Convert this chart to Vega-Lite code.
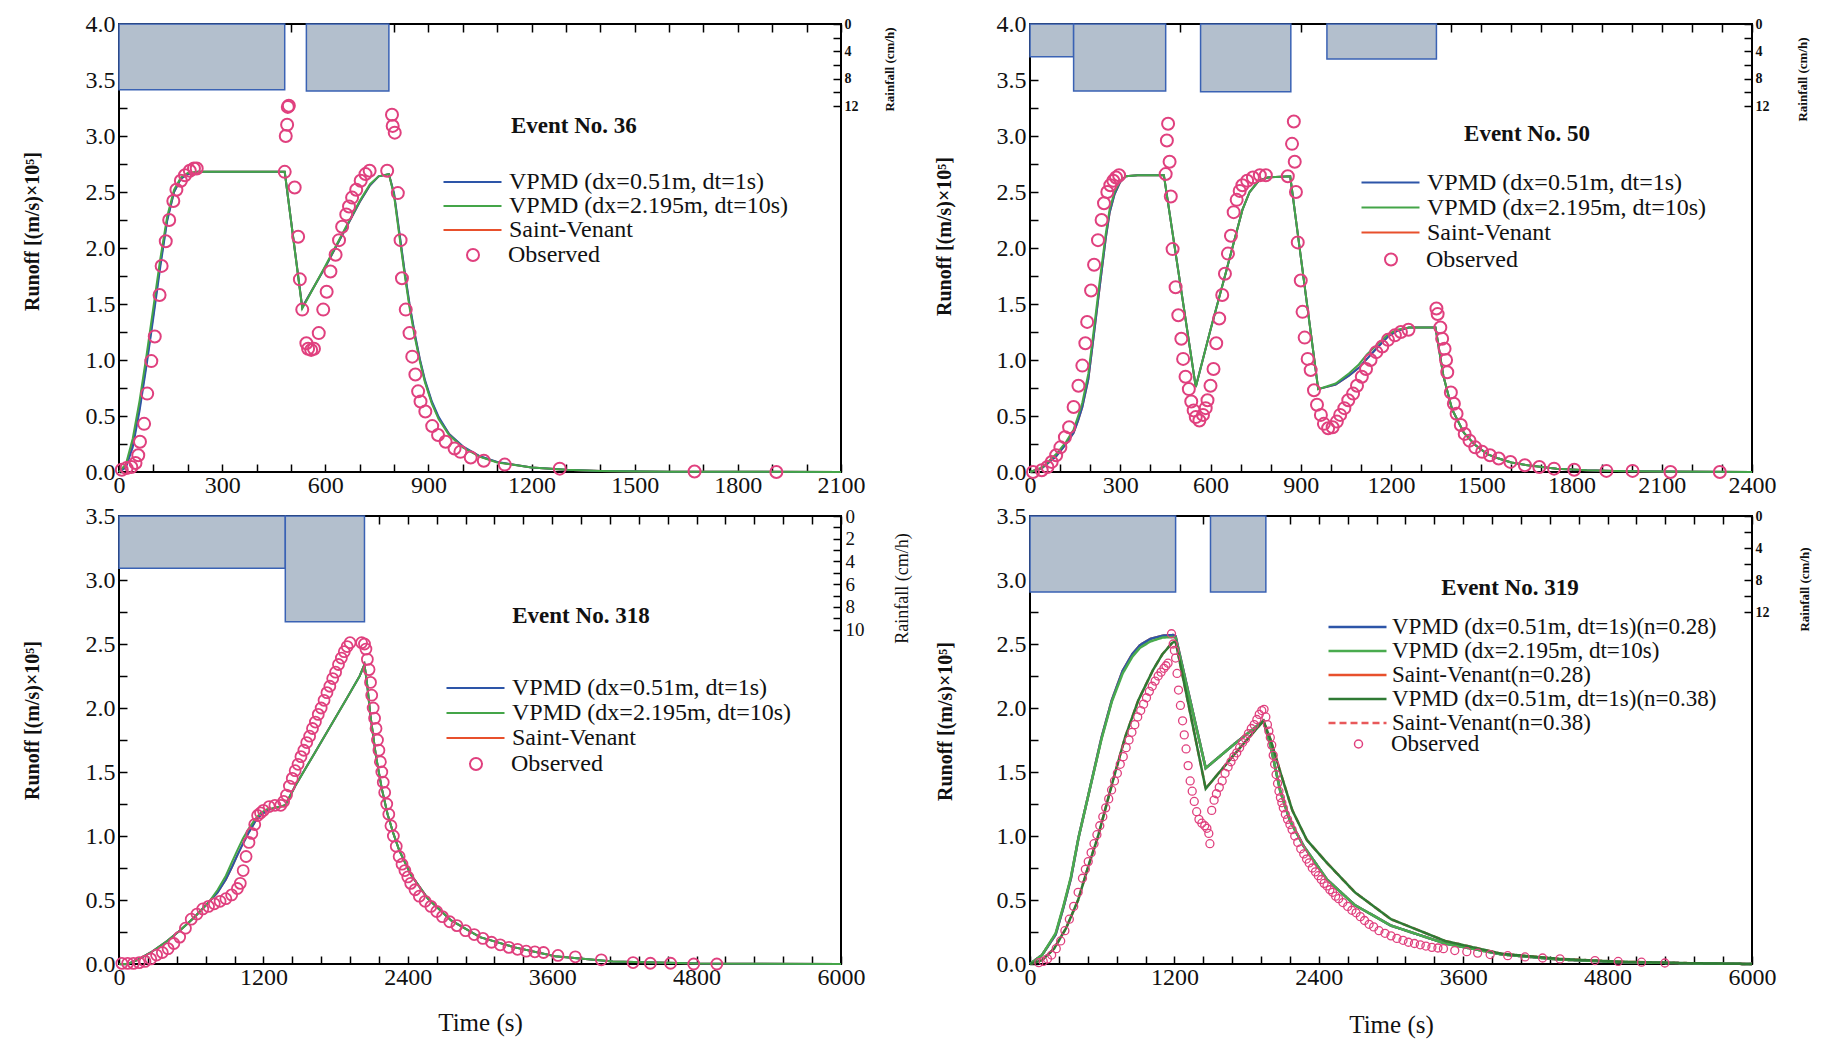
{
"$schema": "https://vega.github.io/schema/vega-lite/v6.json",
"background": "white",
"padding": {"left": 21, "top": 11, "right": 2, "bottom": 2},
"config": {
  "view": {"stroke": "#000", "strokeWidth": 2},
  "axis": {"grid": false, "domain": false, "ticks": true, "tickColor": "#000", "tickWidth": 1.5, "tickSize": -8, "labelFont": "Liberation Serif", "labelFontSize": 24, "labelColor": "#111", "titleFont": "Liberation Serif", "titleColor": "#111", "labelPadding": 10, "labelOverlap": false, "labelFlush": false, "labelBound": false},
  "legend": {"padding": 0, "rowPadding": 0, "labelFont": "Liberation Serif", "labelColor": "#111", "labelLimit": 1000, "symbolOpacity": 1},
  "font": "Liberation Serif"
},
"datasets": {
"r1": [{"t0":0,"t1":482,"rain":9.6},{"t0":545,"t1":785,"rain":9.8}],
"r2": [{"t0":0,"t1":145,"rain":4.8},{"t0":145,"t1":451,"rain":9.8},{"t0":567,"t1":867,"rain":9.9},{"t0":987,"t1":1351,"rain":5.1}],
"r3": [{"t0":0,"t1":1382,"rain":4.6},{"t0":1382,"t1":2040,"rain":9.3}],
"r4": [{"t0":0,"t1":1210,"rain":9.5},{"t0":1500,"t1":1960,"rain":9.5}],
"m1": [
{"s":"R","t":0,"q":0},{"s":"R","t":20,"q":0.05},{"s":"R","t":40,"q":0.25},{"s":"R","t":60,"q":0.58},{"s":"R","t":80,"q":0.98},{"s":"R","t":100,"q":1.41},{"s":"R","t":120,"q":1.86},{"s":"R","t":140,"q":2.25},{"s":"R","t":160,"q":2.5},{"s":"R","t":180,"q":2.62},{"s":"R","t":200,"q":2.66},{"s":"R","t":230,"q":2.68},{"s":"R","t":482,"q":2.68},{"s":"R","t":533,"q":1.47},{"s":"R","t":600,"q":1.83},{"s":"R","t":650,"q":2.12},{"s":"R","t":700,"q":2.41},{"s":"R","t":730,"q":2.56},{"s":"R","t":755,"q":2.64},{"s":"R","t":785,"q":2.66},{"s":"R","t":800,"q":2.48},{"s":"R","t":815,"q":2.14},{"s":"R","t":830,"q":1.8},{"s":"R","t":845,"q":1.49},{"s":"R","t":860,"q":1.23},{"s":"R","t":875,"q":1.0},{"s":"R","t":890,"q":0.81},{"s":"R","t":910,"q":0.62},{"s":"R","t":930,"q":0.48},{"s":"R","t":960,"q":0.34},{"s":"R","t":1000,"q":0.225},{"s":"R","t":1050,"q":0.138},{"s":"R","t":1100,"q":0.088},{"s":"R","t":1200,"q":0.04},{"s":"R","t":1300,"q":0.02},{"s":"R","t":1400,"q":0.01},{"s":"R","t":1600,"q":0.003},{"s":"R","t":2100,"q":0},
{"s":"B","t":0,"q":0},{"s":"B","t":20,"q":0.04},{"s":"B","t":40,"q":0.22},{"s":"B","t":60,"q":0.55},{"s":"B","t":80,"q":0.95},{"s":"B","t":100,"q":1.38},{"s":"B","t":120,"q":1.83},{"s":"B","t":140,"q":2.24},{"s":"B","t":160,"q":2.5},{"s":"B","t":180,"q":2.62},{"s":"B","t":200,"q":2.66},{"s":"B","t":230,"q":2.68},{"s":"B","t":482,"q":2.68},{"s":"B","t":533,"q":1.47},{"s":"B","t":600,"q":1.83},{"s":"B","t":650,"q":2.12},{"s":"B","t":700,"q":2.41},{"s":"B","t":730,"q":2.56},{"s":"B","t":755,"q":2.64},{"s":"B","t":785,"q":2.66},{"s":"B","t":800,"q":2.49},{"s":"B","t":815,"q":2.15},{"s":"B","t":830,"q":1.81},{"s":"B","t":845,"q":1.5},{"s":"B","t":860,"q":1.24},{"s":"B","t":875,"q":1.01},{"s":"B","t":890,"q":0.82},{"s":"B","t":910,"q":0.63},{"s":"B","t":930,"q":0.49},{"s":"B","t":960,"q":0.34},{"s":"B","t":1000,"q":0.23},{"s":"B","t":1050,"q":0.14},{"s":"B","t":1100,"q":0.09},{"s":"B","t":1200,"q":0.04},{"s":"B","t":1300,"q":0.02},{"s":"B","t":1400,"q":0.01},{"s":"B","t":1600,"q":0.003},{"s":"B","t":2100,"q":0},
{"s":"G","t":0,"q":0},{"s":"G","t":20,"q":0.07},{"s":"G","t":40,"q":0.3},{"s":"G","t":60,"q":0.64},{"s":"G","t":80,"q":1.04},{"s":"G","t":100,"q":1.47},{"s":"G","t":120,"q":1.9},{"s":"G","t":140,"q":2.28},{"s":"G","t":160,"q":2.52},{"s":"G","t":180,"q":2.63},{"s":"G","t":200,"q":2.67},{"s":"G","t":230,"q":2.68},{"s":"G","t":482,"q":2.68},{"s":"G","t":533,"q":1.46},{"s":"G","t":600,"q":1.84},{"s":"G","t":650,"q":2.13},{"s":"G","t":700,"q":2.42},{"s":"G","t":730,"q":2.57},{"s":"G","t":755,"q":2.64},{"s":"G","t":785,"q":2.66},{"s":"G","t":800,"q":2.47},{"s":"G","t":815,"q":2.12},{"s":"G","t":830,"q":1.78},{"s":"G","t":845,"q":1.47},{"s":"G","t":860,"q":1.21},{"s":"G","t":875,"q":0.99},{"s":"G","t":890,"q":0.8},{"s":"G","t":910,"q":0.61},{"s":"G","t":930,"q":0.47},{"s":"G","t":960,"q":0.33},{"s":"G","t":1000,"q":0.22},{"s":"G","t":1050,"q":0.135},{"s":"G","t":1100,"q":0.085},{"s":"G","t":1200,"q":0.04},{"s":"G","t":1300,"q":0.02},{"s":"G","t":1400,"q":0.01},{"s":"G","t":1600,"q":0.003},{"s":"G","t":2100,"q":0}
],
"o1": [
{"t":8,"q":0.02},{"t":22,"q":0.035},{"t":36,"q":0.045},{"t":48,"q":0.08},{"t":56,"q":0.15},{"t":61,"q":0.27},{"t":73,"q":0.43},{"t":82,"q":0.7},{"t":94,"q":0.99},{"t":104,"q":1.21},{"t":118,"q":1.58},{"t":124,"q":1.84},{"t":136,"q":2.06},{"t":146,"q":2.25},{"t":158,"q":2.42},{"t":167,"q":2.52},{"t":180,"q":2.6},{"t":192,"q":2.65},{"t":206,"q":2.69},{"t":218,"q":2.71},{"t":226,"q":2.71},{"t":482,"q":2.68},{"t":485,"q":3.0},{"t":489,"q":3.1},{"t":491,"q":3.26},{"t":494,"q":3.27},{"t":511,"q":2.54},{"t":521,"q":2.1},{"t":526,"q":1.72},{"t":533,"q":1.45},{"t":545,"q":1.15},{"t":550,"q":1.1},{"t":559,"q":1.09},{"t":567,"q":1.1},{"t":581,"q":1.24},{"t":594,"q":1.45},{"t":604,"q":1.61},{"t":615,"q":1.79},{"t":630,"q":1.94},{"t":640,"q":2.07},{"t":649,"q":2.19},{"t":661,"q":2.3},{"t":669,"q":2.37},{"t":678,"q":2.45},{"t":690,"q":2.52},{"t":703,"q":2.6},{"t":717,"q":2.66},{"t":729,"q":2.69},{"t":780,"q":2.69},{"t":794,"q":3.19},{"t":796,"q":3.09},{"t":802,"q":3.03},{"t":811,"q":2.49},{"t":819,"q":2.07},{"t":823,"q":1.73},{"t":834,"q":1.45},{"t":845,"q":1.24},{"t":853,"q":1.03},{"t":862,"q":0.87},{"t":870,"q":0.72},{"t":877,"q":0.63},{"t":891,"q":0.54},{"t":911,"q":0.41},{"t":928,"q":0.33},{"t":950,"q":0.27},{"t":976,"q":0.21},{"t":993,"q":0.18},{"t":1023,"q":0.13},{"t":1061,"q":0.1},{"t":1122,"q":0.066},{"t":1282,"q":0.03},{"t":1674,"q":0.005},{"t":1912,"q":0.0}
],
"m2": [
{"s":"R","t":0,"q":0},{"s":"R","t":40,"q":0.035},{"s":"R","t":87,"q":0.14},{"s":"R","t":120,"q":0.25},{"s":"R","t":145,"q":0.35},{"s":"R","t":160,"q":0.46},{"s":"R","t":174,"q":0.58},{"s":"R","t":194,"q":0.83},{"s":"R","t":213,"q":1.24},{"s":"R","t":232,"q":1.66},{"s":"R","t":252,"q":2.09},{"s":"R","t":265,"q":2.32},{"s":"R","t":281,"q":2.48},{"s":"R","t":300,"q":2.59},{"s":"R","t":319,"q":2.64},{"s":"R","t":358,"q":2.65},{"s":"R","t":445,"q":2.65},{"s":"R","t":551,"q":0.76},{"s":"R","t":600,"q":1.27},{"s":"R","t":650,"q":1.77},{"s":"R","t":706,"q":2.34},{"s":"R","t":730,"q":2.5},{"s":"R","t":760,"q":2.6},{"s":"R","t":790,"q":2.63},{"s":"R","t":865,"q":2.64},{"s":"R","t":910,"q":1.72},{"s":"R","t":958,"q":0.74},{"s":"R","t":1016,"q":0.78},{"s":"R","t":1060,"q":0.86},{"s":"R","t":1093,"q":0.93},{"s":"R","t":1120,"q":1.01},{"s":"R","t":1151,"q":1.1},{"s":"R","t":1190,"q":1.21},{"s":"R","t":1220,"q":1.26},{"s":"R","t":1260,"q":1.29},{"s":"R","t":1348,"q":1.29},{"s":"R","t":1374,"q":0.86},{"s":"R","t":1403,"q":0.56},{"s":"R","t":1442,"q":0.35},{"s":"R","t":1480,"q":0.24},{"s":"R","t":1520,"q":0.16},{"s":"R","t":1558,"q":0.12},{"s":"R","t":1600,"q":0.085},{"s":"R","t":1654,"q":0.06},{"s":"R","t":1751,"q":0.03},{"s":"R","t":1850,"q":0.015},{"s":"R","t":1945,"q":0.01},{"s":"R","t":2100,"q":0.004},{"s":"R","t":2400,"q":0},
{"s":"B","t":0,"q":0},{"s":"B","t":40,"q":0.035},{"s":"B","t":87,"q":0.14},{"s":"B","t":120,"q":0.25},{"s":"B","t":145,"q":0.35},{"s":"B","t":160,"q":0.46},{"s":"B","t":174,"q":0.58},{"s":"B","t":194,"q":0.83},{"s":"B","t":213,"q":1.24},{"s":"B","t":232,"q":1.66},{"s":"B","t":252,"q":2.09},{"s":"B","t":265,"q":2.32},{"s":"B","t":281,"q":2.48},{"s":"B","t":300,"q":2.59},{"s":"B","t":319,"q":2.64},{"s":"B","t":358,"q":2.65},{"s":"B","t":445,"q":2.65},{"s":"B","t":551,"q":0.76},{"s":"B","t":600,"q":1.27},{"s":"B","t":650,"q":1.77},{"s":"B","t":706,"q":2.34},{"s":"B","t":730,"q":2.5},{"s":"B","t":760,"q":2.6},{"s":"B","t":790,"q":2.63},{"s":"B","t":865,"q":2.64},{"s":"B","t":910,"q":1.72},{"s":"B","t":958,"q":0.74},{"s":"B","t":1016,"q":0.78},{"s":"B","t":1060,"q":0.86},{"s":"B","t":1093,"q":0.93},{"s":"B","t":1120,"q":1.01},{"s":"B","t":1151,"q":1.1},{"s":"B","t":1190,"q":1.21},{"s":"B","t":1220,"q":1.26},{"s":"B","t":1260,"q":1.29},{"s":"B","t":1348,"q":1.29},{"s":"B","t":1374,"q":0.86},{"s":"B","t":1403,"q":0.56},{"s":"B","t":1442,"q":0.35},{"s":"B","t":1480,"q":0.24},{"s":"B","t":1520,"q":0.16},{"s":"B","t":1558,"q":0.12},{"s":"B","t":1600,"q":0.085},{"s":"B","t":1654,"q":0.06},{"s":"B","t":1751,"q":0.03},{"s":"B","t":1850,"q":0.015},{"s":"B","t":1945,"q":0.01},{"s":"B","t":2100,"q":0.004},{"s":"B","t":2400,"q":0},
{"s":"G","t":0,"q":0},{"s":"G","t":40,"q":0.04},{"s":"G","t":87,"q":0.16},{"s":"G","t":120,"q":0.27},{"s":"G","t":145,"q":0.38},{"s":"G","t":160,"q":0.5},{"s":"G","t":174,"q":0.62},{"s":"G","t":194,"q":0.88},{"s":"G","t":213,"q":1.29},{"s":"G","t":232,"q":1.71},{"s":"G","t":252,"q":2.13},{"s":"G","t":265,"q":2.35},{"s":"G","t":281,"q":2.5},{"s":"G","t":300,"q":2.6},{"s":"G","t":319,"q":2.64},{"s":"G","t":358,"q":2.65},{"s":"G","t":445,"q":2.65},{"s":"G","t":551,"q":0.76},{"s":"G","t":600,"q":1.27},{"s":"G","t":650,"q":1.77},{"s":"G","t":706,"q":2.34},{"s":"G","t":730,"q":2.5},{"s":"G","t":760,"q":2.6},{"s":"G","t":790,"q":2.63},{"s":"G","t":865,"q":2.64},{"s":"G","t":910,"q":1.72},{"s":"G","t":958,"q":0.74},{"s":"G","t":1016,"q":0.79},{"s":"G","t":1060,"q":0.88},{"s":"G","t":1093,"q":0.96},{"s":"G","t":1120,"q":1.05},{"s":"G","t":1151,"q":1.13},{"s":"G","t":1190,"q":1.23},{"s":"G","t":1220,"q":1.27},{"s":"G","t":1260,"q":1.29},{"s":"G","t":1348,"q":1.29},{"s":"G","t":1374,"q":0.86},{"s":"G","t":1403,"q":0.56},{"s":"G","t":1442,"q":0.35},{"s":"G","t":1480,"q":0.24},{"s":"G","t":1520,"q":0.16},{"s":"G","t":1558,"q":0.12},{"s":"G","t":1600,"q":0.085},{"s":"G","t":1654,"q":0.06},{"s":"G","t":1751,"q":0.03},{"s":"G","t":1850,"q":0.015},{"s":"G","t":1945,"q":0.01},{"s":"G","t":2100,"q":0.004},{"s":"G","t":2400,"q":0}
],
"o2": [
{"t":10,"q":0.0},{"t":39,"q":0.015},{"t":58,"q":0.045},{"t":72,"q":0.09},{"t":87,"q":0.15},{"t":101,"q":0.22},{"t":116,"q":0.31},{"t":130,"q":0.4},{"t":145,"q":0.58},{"t":161,"q":0.77},{"t":174,"q":0.95},{"t":184,"q":1.15},{"t":190,"q":1.34},{"t":203,"q":1.62},{"t":213,"q":1.85},{"t":226,"q":2.07},{"t":238,"q":2.25},{"t":246,"q":2.4},{"t":257,"q":2.5},{"t":267,"q":2.56},{"t":277,"q":2.6},{"t":286,"q":2.63},{"t":296,"q":2.65},{"t":451,"q":2.66},{"t":455,"q":2.96},{"t":459,"q":3.11},{"t":464,"q":2.77},{"t":468,"q":2.46},{"t":474,"q":1.99},{"t":484,"q":1.65},{"t":493,"q":1.4},{"t":503,"q":1.19},{"t":509,"q":1.01},{"t":517,"q":0.85},{"t":528,"q":0.74},{"t":536,"q":0.63},{"t":544,"q":0.55},{"t":551,"q":0.49},{"t":563,"q":0.46},{"t":575,"q":0.51},{"t":584,"q":0.57},{"t":590,"q":0.64},{"t":600,"q":0.77},{"t":610,"q":0.92},{"t":619,"q":1.15},{"t":629,"q":1.37},{"t":639,"q":1.58},{"t":648,"q":1.77},{"t":658,"q":1.95},{"t":668,"q":2.11},{"t":677,"q":2.32},{"t":687,"q":2.43},{"t":697,"q":2.51},{"t":706,"q":2.56},{"t":722,"q":2.6},{"t":741,"q":2.63},{"t":764,"q":2.65},{"t":784,"q":2.65},{"t":857,"q":2.64},{"t":871,"q":2.93},{"t":877,"q":3.13},{"t":880,"q":2.77},{"t":884,"q":2.5},{"t":890,"q":2.05},{"t":900,"q":1.71},{"t":906,"q":1.43},{"t":913,"q":1.2},{"t":923,"q":1.01},{"t":933,"q":0.91},{"t":944,"q":0.73},{"t":954,"q":0.6},{"t":967,"q":0.51},{"t":977,"q":0.43},{"t":991,"q":0.39},{"t":1006,"q":0.4},{"t":1020,"q":0.45},{"t":1031,"q":0.51},{"t":1045,"q":0.57},{"t":1058,"q":0.64},{"t":1074,"q":0.7},{"t":1087,"q":0.77},{"t":1103,"q":0.85},{"t":1117,"q":0.92},{"t":1132,"q":1.0},{"t":1151,"q":1.07},{"t":1171,"q":1.12},{"t":1190,"q":1.18},{"t":1213,"q":1.22},{"t":1233,"q":1.25},{"t":1258,"q":1.27},{"t":1351,"q":1.46},{"t":1355,"q":1.41},{"t":1364,"q":1.29},{"t":1370,"q":1.19},{"t":1378,"q":1.1},{"t":1383,"q":1.0},{"t":1387,"q":0.89},{"t":1399,"q":0.71},{"t":1409,"q":0.61},{"t":1418,"q":0.52},{"t":1432,"q":0.42},{"t":1445,"q":0.34},{"t":1461,"q":0.28},{"t":1480,"q":0.22},{"t":1503,"q":0.18},{"t":1529,"q":0.15},{"t":1558,"q":0.12},{"t":1597,"q":0.09},{"t":1645,"q":0.06},{"t":1693,"q":0.045},{"t":1742,"q":0.03},{"t":1809,"q":0.02},{"t":1916,"q":0.01},{"t":2003,"q":0.01},{"t":2129,"q":0.0},{"t":2293,"q":0.0}
],
"m3": [
{"s":"R","t":0,"q":0},{"s":"R","t":72,"q":0},{"s":"R","t":150,"q":0.03},{"s":"R","t":264,"q":0.09},{"s":"R","t":400,"q":0.18},{"s":"R","t":504,"q":0.26},{"s":"R","t":620,"q":0.36},{"s":"R","t":744,"q":0.48},{"s":"R","t":820,"q":0.56},{"s":"R","t":888,"q":0.66},{"s":"R","t":940,"q":0.76},{"s":"R","t":984,"q":0.85},{"s":"R","t":1030,"q":0.94},{"s":"R","t":1080,"q":1.03},{"s":"R","t":1130,"q":1.11},{"s":"R","t":1176,"q":1.16},{"s":"R","t":1230,"q":1.2},{"s":"R","t":1300,"q":1.22},{"s":"R","t":1382,"q":1.24},{"s":"R","t":1464,"q":1.39},{"s":"R","t":1608,"q":1.62},{"s":"R","t":1752,"q":1.85},{"s":"R","t":1896,"q":2.08},{"s":"R","t":2000,"q":2.25},{"s":"R","t":2040,"q":2.34},{"s":"R","t":2064,"q":2.17},{"s":"R","t":2088,"q":1.95},{"s":"R","t":2136,"q":1.62},{"s":"R","t":2184,"q":1.37},{"s":"R","t":2232,"q":1.17},{"s":"R","t":2280,"q":1.02},{"s":"R","t":2328,"q":0.89},{"s":"R","t":2424,"q":0.7},{"s":"R","t":2568,"q":0.51},{"s":"R","t":2760,"q":0.34},{"s":"R","t":3000,"q":0.21},{"s":"R","t":3288,"q":0.13},{"s":"R","t":3624,"q":0.06},{"s":"R","t":4104,"q":0.02},{"s":"R","t":4824,"q":0.003},{"s":"R","t":6000,"q":0},
{"s":"B","t":0,"q":0},{"s":"B","t":72,"q":0},{"s":"B","t":150,"q":0.03},{"s":"B","t":264,"q":0.09},{"s":"B","t":400,"q":0.18},{"s":"B","t":504,"q":0.26},{"s":"B","t":620,"q":0.36},{"s":"B","t":744,"q":0.48},{"s":"B","t":820,"q":0.56},{"s":"B","t":888,"q":0.66},{"s":"B","t":940,"q":0.76},{"s":"B","t":984,"q":0.85},{"s":"B","t":1030,"q":0.94},{"s":"B","t":1080,"q":1.03},{"s":"B","t":1130,"q":1.11},{"s":"B","t":1176,"q":1.16},{"s":"B","t":1230,"q":1.2},{"s":"B","t":1300,"q":1.22},{"s":"B","t":1382,"q":1.24},{"s":"B","t":1464,"q":1.39},{"s":"B","t":1608,"q":1.62},{"s":"B","t":1752,"q":1.85},{"s":"B","t":1896,"q":2.08},{"s":"B","t":2000,"q":2.25},{"s":"B","t":2040,"q":2.34},{"s":"B","t":2064,"q":2.17},{"s":"B","t":2088,"q":1.95},{"s":"B","t":2136,"q":1.62},{"s":"B","t":2184,"q":1.37},{"s":"B","t":2232,"q":1.17},{"s":"B","t":2280,"q":1.02},{"s":"B","t":2328,"q":0.89},{"s":"B","t":2424,"q":0.7},{"s":"B","t":2568,"q":0.51},{"s":"B","t":2760,"q":0.34},{"s":"B","t":3000,"q":0.21},{"s":"B","t":3288,"q":0.13},{"s":"B","t":3624,"q":0.06},{"s":"B","t":4104,"q":0.02},{"s":"B","t":4824,"q":0.003},{"s":"B","t":6000,"q":0},
{"s":"G","t":0,"q":0},{"s":"G","t":72,"q":0},{"s":"G","t":150,"q":0.03},{"s":"G","t":264,"q":0.09},{"s":"G","t":400,"q":0.18},{"s":"G","t":504,"q":0.26},{"s":"G","t":620,"q":0.36},{"s":"G","t":744,"q":0.48},{"s":"G","t":820,"q":0.58},{"s":"G","t":888,"q":0.69},{"s":"G","t":940,"q":0.8},{"s":"G","t":984,"q":0.89},{"s":"G","t":1030,"q":0.98},{"s":"G","t":1080,"q":1.06},{"s":"G","t":1130,"q":1.13},{"s":"G","t":1176,"q":1.18},{"s":"G","t":1230,"q":1.21},{"s":"G","t":1300,"q":1.22},{"s":"G","t":1382,"q":1.24},{"s":"G","t":1464,"q":1.39},{"s":"G","t":1608,"q":1.62},{"s":"G","t":1752,"q":1.85},{"s":"G","t":1896,"q":2.08},{"s":"G","t":2000,"q":2.25},{"s":"G","t":2040,"q":2.34},{"s":"G","t":2064,"q":2.17},{"s":"G","t":2088,"q":1.95},{"s":"G","t":2136,"q":1.62},{"s":"G","t":2184,"q":1.37},{"s":"G","t":2232,"q":1.17},{"s":"G","t":2280,"q":1.02},{"s":"G","t":2328,"q":0.89},{"s":"G","t":2424,"q":0.7},{"s":"G","t":2568,"q":0.51},{"s":"G","t":2760,"q":0.34},{"s":"G","t":3000,"q":0.21},{"s":"G","t":3288,"q":0.13},{"s":"G","t":3624,"q":0.06},{"s":"G","t":4104,"q":0.02},{"s":"G","t":4824,"q":0.003},{"s":"G","t":6000,"q":0}
],
"o3": [
{"t":24,"q":0.005},{"t":72,"q":0.005},{"t":120,"q":0.005},{"t":168,"q":0.01},{"t":216,"q":0.02},{"t":264,"q":0.04},{"t":312,"q":0.07},{"t":360,"q":0.09},{"t":408,"q":0.12},{"t":456,"q":0.16},{"t":504,"q":0.21},{"t":552,"q":0.28},{"t":600,"q":0.35},{"t":648,"q":0.39},{"t":696,"q":0.43},{"t":744,"q":0.45},{"t":792,"q":0.47},{"t":840,"q":0.49},{"t":888,"q":0.51},{"t":936,"q":0.54},{"t":984,"q":0.59},{"t":1008,"q":0.63},{"t":1032,"q":0.73},{"t":1056,"q":0.84},{"t":1080,"q":0.95},{"t":1104,"q":1.02},{"t":1128,"q":1.09},{"t":1152,"q":1.16},{"t":1176,"q":1.18},{"t":1200,"q":1.2},{"t":1248,"q":1.23},{"t":1296,"q":1.24},{"t":1344,"q":1.24},{"t":1368,"q":1.27},{"t":1392,"q":1.32},{"t":1416,"q":1.39},{"t":1440,"q":1.45},{"t":1464,"q":1.51},{"t":1488,"q":1.56},{"t":1512,"q":1.62},{"t":1536,"q":1.67},{"t":1560,"q":1.73},{"t":1584,"q":1.78},{"t":1608,"q":1.84},{"t":1632,"q":1.89},{"t":1656,"q":1.95},{"t":1680,"q":2.0},{"t":1704,"q":2.06},{"t":1728,"q":2.12},{"t":1752,"q":2.17},{"t":1776,"q":2.23},{"t":1800,"q":2.28},{"t":1824,"q":2.34},{"t":1848,"q":2.39},{"t":1872,"q":2.44},{"t":1896,"q":2.48},{"t":1920,"q":2.51},{"t":2016,"q":2.51},{"t":2040,"q":2.5},{"t":2052,"q":2.46},{"t":2064,"q":2.38},{"t":2078,"q":2.3},{"t":2090,"q":2.2},{"t":2100,"q":2.1},{"t":2112,"q":2.0},{"t":2124,"q":1.92},{"t":2136,"q":1.84},{"t":2148,"q":1.75},{"t":2160,"q":1.67},{"t":2172,"q":1.58},{"t":2184,"q":1.5},{"t":2196,"q":1.42},{"t":2208,"q":1.34},{"t":2225,"q":1.25},{"t":2242,"q":1.17},{"t":2260,"q":1.08},{"t":2280,"q":1.0},{"t":2304,"q":0.92},{"t":2328,"q":0.84},{"t":2352,"q":0.78},{"t":2376,"q":0.73},{"t":2400,"q":0.68},{"t":2424,"q":0.63},{"t":2460,"q":0.58},{"t":2496,"q":0.53},{"t":2544,"q":0.49},{"t":2592,"q":0.45},{"t":2640,"q":0.41},{"t":2688,"q":0.37},{"t":2748,"q":0.33},{"t":2808,"q":0.3},{"t":2880,"q":0.26},{"t":2952,"q":0.23},{"t":3024,"q":0.2},{"t":3096,"q":0.17},{"t":3168,"q":0.15},{"t":3240,"q":0.13},{"t":3312,"q":0.115},{"t":3384,"q":0.1},{"t":3456,"q":0.095},{"t":3528,"q":0.09},{"t":3648,"q":0.067},{"t":3792,"q":0.056},{"t":4008,"q":0.033},{"t":4272,"q":0.011},{"t":4416,"q":0.006},{"t":4584,"q":0.006},{"t":4776,"q":0.0},{"t":4968,"q":0.0}
],
"m4": [
{"s":"R","t":0,"q":0},{"s":"R","t":100,"q":0.07},{"s":"R","t":213,"q":0.23},{"s":"R","t":277,"q":0.44},{"s":"R","t":340,"q":0.67},{"s":"R","t":404,"q":0.99},{"s":"R","t":500,"q":1.38},{"s":"R","t":595,"q":1.77},{"s":"R","t":680,"q":2.06},{"s":"R","t":770,"q":2.29},{"s":"R","t":850,"q":2.42},{"s":"R","t":913,"q":2.49},{"s":"R","t":1000,"q":2.54},{"s":"R","t":1100,"q":2.565},{"s":"R","t":1190,"q":2.57},{"s":"R","t":1210,"q":2.56},{"s":"R","t":1460,"q":1.53},{"s":"R","t":1700,"q":1.72},{"s":"R","t":1940,"q":1.9},{"s":"R","t":2000,"q":1.7},{"s":"R","t":2080,"q":1.35},{"s":"R","t":2160,"q":1.12},{"s":"R","t":2275,"q":0.92},{"s":"R","t":2468,"q":0.66},{"s":"R","t":2700,"q":0.46},{"s":"R","t":3000,"q":0.3},{"s":"R","t":3450,"q":0.16},{"s":"R","t":3920,"q":0.075},{"s":"R","t":4400,"q":0.035},{"s":"R","t":4900,"q":0.015},{"s":"R","t":5500,"q":0.005},{"s":"R","t":6000,"q":0},
{"s":"S","t":0,"q":0},{"s":"S","t":100,"q":0.03},{"s":"S","t":200,"q":0.12},{"s":"S","t":300,"q":0.28},{"s":"S","t":400,"q":0.5},{"s":"S","t":480,"q":0.75},{"s":"S","t":563,"q":0.99},{"s":"S","t":700,"q":1.47},{"s":"S","t":790,"q":1.77},{"s":"S","t":900,"q":2.06},{"s":"S","t":1024,"q":2.3},{"s":"S","t":1100,"q":2.42},{"s":"S","t":1183,"q":2.51},{"s":"S","t":1210,"q":2.52},{"s":"S","t":1460,"q":1.37},{"s":"S","t":1700,"q":1.64},{"s":"S","t":1940,"q":1.9},{"s":"S","t":2000,"q":1.75},{"s":"S","t":2080,"q":1.5},{"s":"S","t":2180,"q":1.2},{"s":"S","t":2300,"q":0.97},{"s":"S","t":2468,"q":0.79},{"s":"S","t":2700,"q":0.56},{"s":"S","t":3000,"q":0.35},{"s":"S","t":3450,"q":0.18},{"s":"S","t":3920,"q":0.08},{"s":"S","t":4400,"q":0.04},{"s":"S","t":4900,"q":0.018},{"s":"S","t":5500,"q":0.006},{"s":"S","t":6000,"q":0},
{"s":"B","t":0,"q":0},{"s":"B","t":100,"q":0.07},{"s":"B","t":213,"q":0.23},{"s":"B","t":277,"q":0.44},{"s":"B","t":340,"q":0.67},{"s":"B","t":404,"q":0.99},{"s":"B","t":500,"q":1.38},{"s":"B","t":595,"q":1.77},{"s":"B","t":680,"q":2.06},{"s":"B","t":770,"q":2.29},{"s":"B","t":850,"q":2.42},{"s":"B","t":913,"q":2.49},{"s":"B","t":1000,"q":2.54},{"s":"B","t":1100,"q":2.565},{"s":"B","t":1190,"q":2.57},{"s":"B","t":1210,"q":2.56},{"s":"B","t":1460,"q":1.53},{"s":"B","t":1700,"q":1.72},{"s":"B","t":1940,"q":1.9},{"s":"B","t":2000,"q":1.7},{"s":"B","t":2080,"q":1.35},{"s":"B","t":2160,"q":1.12},{"s":"B","t":2275,"q":0.92},{"s":"B","t":2468,"q":0.66},{"s":"B","t":2700,"q":0.46},{"s":"B","t":3000,"q":0.3},{"s":"B","t":3450,"q":0.16},{"s":"B","t":3920,"q":0.075},{"s":"B","t":4400,"q":0.035},{"s":"B","t":4900,"q":0.015},{"s":"B","t":5500,"q":0.005},{"s":"B","t":6000,"q":0},
{"s":"G","t":0,"q":0},{"s":"G","t":100,"q":0.07},{"s":"G","t":213,"q":0.24},{"s":"G","t":277,"q":0.45},{"s":"G","t":340,"q":0.68},{"s":"G","t":404,"q":0.99},{"s":"G","t":500,"q":1.38},{"s":"G","t":595,"q":1.76},{"s":"G","t":680,"q":2.05},{"s":"G","t":770,"q":2.27},{"s":"G","t":850,"q":2.4},{"s":"G","t":913,"q":2.47},{"s":"G","t":1000,"q":2.52},{"s":"G","t":1100,"q":2.55},{"s":"G","t":1190,"q":2.555},{"s":"G","t":1210,"q":2.55},{"s":"G","t":1460,"q":1.53},{"s":"G","t":1700,"q":1.72},{"s":"G","t":1940,"q":1.9},{"s":"G","t":2000,"q":1.7},{"s":"G","t":2080,"q":1.35},{"s":"G","t":2160,"q":1.12},{"s":"G","t":2275,"q":0.92},{"s":"G","t":2468,"q":0.66},{"s":"G","t":2700,"q":0.46},{"s":"G","t":3000,"q":0.3},{"s":"G","t":3450,"q":0.16},{"s":"G","t":3920,"q":0.075},{"s":"G","t":4400,"q":0.035},{"s":"G","t":4900,"q":0.015},{"s":"G","t":5500,"q":0.005},{"s":"G","t":6000,"q":0},
{"s":"D","t":0,"q":0},{"s":"D","t":100,"q":0.03},{"s":"D","t":200,"q":0.12},{"s":"D","t":300,"q":0.28},{"s":"D","t":400,"q":0.5},{"s":"D","t":480,"q":0.75},{"s":"D","t":563,"q":0.99},{"s":"D","t":700,"q":1.47},{"s":"D","t":790,"q":1.77},{"s":"D","t":900,"q":2.06},{"s":"D","t":1024,"q":2.3},{"s":"D","t":1100,"q":2.42},{"s":"D","t":1183,"q":2.51},{"s":"D","t":1210,"q":2.52},{"s":"D","t":1460,"q":1.37},{"s":"D","t":1700,"q":1.64},{"s":"D","t":1940,"q":1.9},{"s":"D","t":2000,"q":1.75},{"s":"D","t":2080,"q":1.5},{"s":"D","t":2180,"q":1.2},{"s":"D","t":2300,"q":0.97},{"s":"D","t":2468,"q":0.79},{"s":"D","t":2700,"q":0.56},{"s":"D","t":3000,"q":0.35},{"s":"D","t":3450,"q":0.18},{"s":"D","t":3920,"q":0.08},{"s":"D","t":4400,"q":0.04},{"s":"D","t":4900,"q":0.018},{"s":"D","t":5500,"q":0.006},{"s":"D","t":6000,"q":0}
],
"o4": [
{"t":73,"q":0.01},{"t":110,"q":0.02},{"t":145,"q":0.04},{"t":180,"q":0.07},{"t":218,"q":0.12},{"t":255,"q":0.18},{"t":290,"q":0.26},{"t":327,"q":0.35},{"t":363,"q":0.45},{"t":400,"q":0.56},{"t":436,"q":0.67},{"t":460,"q":0.74},{"t":484,"q":0.8},{"t":508,"q":0.87},{"t":532,"q":0.94},{"t":556,"q":1.01},{"t":580,"q":1.08},{"t":605,"q":1.15},{"t":629,"q":1.22},{"t":654,"q":1.29},{"t":678,"q":1.36},{"t":702,"q":1.43},{"t":726,"q":1.49},{"t":750,"q":1.56},{"t":775,"q":1.62},{"t":799,"q":1.69},{"t":823,"q":1.75},{"t":847,"q":1.81},{"t":871,"q":1.87},{"t":895,"q":1.93},{"t":920,"q":1.98},{"t":944,"q":2.03},{"t":968,"q":2.08},{"t":992,"q":2.13},{"t":1016,"q":2.17},{"t":1040,"q":2.21},{"t":1065,"q":2.25},{"t":1089,"q":2.28},{"t":1113,"q":2.31},{"t":1130,"q":2.33},{"t":1147,"q":2.35},{"t":1176,"q":2.58},{"t":1190,"q":2.5},{"t":1200,"q":2.45},{"t":1210,"q":2.39},{"t":1222,"q":2.27},{"t":1234,"q":2.14},{"t":1250,"q":2.02},{"t":1268,"q":1.9},{"t":1282,"q":1.79},{"t":1297,"q":1.68},{"t":1314,"q":1.55},{"t":1331,"q":1.43},{"t":1348,"q":1.35},{"t":1365,"q":1.27},{"t":1385,"q":1.19},{"t":1404,"q":1.13},{"t":1428,"q":1.1},{"t":1452,"q":1.08},{"t":1470,"q":1.06},{"t":1486,"q":1.02},{"t":1495,"q":0.94},{"t":1510,"q":1.2},{"t":1530,"q":1.28},{"t":1549,"q":1.33},{"t":1573,"q":1.38},{"t":1597,"q":1.43},{"t":1621,"q":1.49},{"t":1646,"q":1.54},{"t":1670,"q":1.58},{"t":1694,"q":1.62},{"t":1718,"q":1.65},{"t":1742,"q":1.69},{"t":1767,"q":1.73},{"t":1791,"q":1.76},{"t":1815,"q":1.8},{"t":1839,"q":1.84},{"t":1863,"q":1.87},{"t":1885,"q":1.91},{"t":1905,"q":1.95},{"t":1926,"q":1.98},{"t":1945,"q":1.99},{"t":1960,"q":1.93},{"t":1973,"q":1.87},{"t":1985,"q":1.82},{"t":1997,"q":1.77},{"t":2009,"q":1.71},{"t":2021,"q":1.63},{"t":2033,"q":1.56},{"t":2045,"q":1.48},{"t":2057,"q":1.41},{"t":2069,"q":1.35},{"t":2081,"q":1.3},{"t":2093,"q":1.26},{"t":2105,"q":1.22},{"t":2122,"q":1.17},{"t":2140,"q":1.13},{"t":2160,"q":1.09},{"t":2178,"q":1.05},{"t":2200,"q":1.0},{"t":2225,"q":0.95},{"t":2250,"q":0.9},{"t":2275,"q":0.86},{"t":2298,"q":0.82},{"t":2320,"q":0.79},{"t":2346,"q":0.75},{"t":2372,"q":0.72},{"t":2396,"q":0.69},{"t":2420,"q":0.66},{"t":2444,"q":0.63},{"t":2468,"q":0.61},{"t":2492,"q":0.58},{"t":2515,"q":0.56},{"t":2540,"q":0.53},{"t":2565,"q":0.51},{"t":2600,"q":0.48},{"t":2640,"q":0.45},{"t":2675,"q":0.42},{"t":2710,"q":0.4},{"t":2745,"q":0.37},{"t":2780,"q":0.34},{"t":2818,"q":0.31},{"t":2856,"q":0.29},{"t":2900,"q":0.26},{"t":2950,"q":0.24},{"t":3000,"q":0.22},{"t":3049,"q":0.2},{"t":3100,"q":0.185},{"t":3145,"q":0.17},{"t":3195,"q":0.16},{"t":3243,"q":0.15},{"t":3290,"q":0.14},{"t":3340,"q":0.13},{"t":3390,"q":0.125},{"t":3436,"q":0.12},{"t":3530,"q":0.105},{"t":3630,"q":0.096},{"t":3720,"q":0.085},{"t":3824,"q":0.074},{"t":3970,"q":0.065},{"t":4114,"q":0.055},{"t":4260,"q":0.047},{"t":4404,"q":0.04},{"t":4695,"q":0.027},{"t":4888,"q":0.02},{"t":5082,"q":0.014},{"t":5276,"q":0.008}
]
},
"resolve": {"scale": {"color": "independent", "shape": "independent", "strokeDash": "independent"}, "legend": {"color": "independent", "shape": "independent", "strokeDash": "independent"}},
"columns": 2,
"align": "each",
"spacing": {"row": 5, "column": 21},
"concat": [
{
 "width": 722, "height": 448,
 "layer": [
  {"data": {"name": "r1"},
   "mark": {"type": "rect", "fill": "#b3bfcd", "stroke": "#3a62b4", "strokeWidth": 1.5},
   "encoding": {
    "x": {"field": "t0", "type": "quantitative", "scale": {"domain": [0, 2100], "nice": false}, "axis": {"orient": "top", "values": [0,100,200,300,400,500,600,700,800,900,1000,1100,1200,1300,1400,1500,1600,1700,1800,1900,2000,2100], "labels": false, "title": null}},
    "x2": {"field": "t1"},
    "y": {"field": "rain", "type": "quantitative", "scale": {"domain": [0, 65.5], "reverse": true, "nice": false, "zero": false}, "axis": {"orient": "right", "values": [0,2,4,6,8,10,12], "labelExpr": "datum.value % 4 == 0 ? datum.label : ''", "labelFontSize": 14, "labelFontWeight": "bold", "labelPadding": 11, "title": "Rainfall (cm/h)", "titleFontSize": 13, "titleFontWeight": "bold", "titleX": 48, "titleY": 45, "titleAngle": 270, "titleBaseline": "middle", "titleAlign": "center"}},
    "y2": {"datum": 0}
   }},
  {"layer": [
    {"data": {"name": "m1"},
     "mark": {"type": "line", "strokeWidth": 2},
     "encoding": {
      "x": {"field": "t", "type": "quantitative", "scale": {"domain": [0, 2100], "nice": false}, "axis": {"orient": "bottom", "values": [0,100,200,300,400,500,600,700,800,900,1000,1100,1200,1300,1400,1500,1600,1700,1800,1900,2000,2100], "format": "d", "labelExpr": "datum.value % 300 == 0 ? datum.label : ''", "labelPadding": 9, "title": null}},
      "y": {"field": "q", "type": "quantitative", "scale": {"domain": [0, 4], "nice": false}, "axis": {"orient": "left", "values": [0,0.25,0.5,0.75,1,1.25,1.5,1.75,2,2.25,2.5,2.75,3,3.25,3.5,3.75,4], "labelExpr": "(datum.value * 2) % 1 == 0 ? format(datum.value, '.1f') : ''", "labelPadding": 12, "title": "Runoff [(m/s)×10⁵]", "titleFontSize": 20, "titleFontWeight": "bold", "titleX": -87, "titleY": 207, "titleAngle": 270, "titleBaseline": "middle", "titleAlign": "center"}},
      "color": {"field": "s", "type": "nominal", "scale": {"domain": ["B","G","R"], "range": ["#2d55a8","#44a548","#e8502c"]},
        "legend": {"orient": "none", "legendX": 323, "legendY": 146, "title": null, "symbolType": "stroke", "symbolSize": 3364, "symbolStrokeWidth": 2.2, "clipHeight": 24, "labelOffset": 6, "labelFontSize": 24,
          "labelExpr": "datum.value == 'B' ? 'VPMD (dx=0.51m, dt=1s)' : datum.value == 'G' ? 'VPMD (dx=2.195m, dt=10s)' : 'Saint-Venant'"}}
     }},
    {"data": {"name": "o1"},
     "mark": {"type": "point", "filled": false, "stroke": "#e0407e", "strokeWidth": 2, "size": 144, "opacity": 1},
     "encoding": {
      "x": {"field": "t", "type": "quantitative", "axis": {"orient": "bottom", "values": [0,100,200,300,400,500,600,700,800,900,1000,1100,1200,1300,1400,1500,1600,1700,1800,1900,2000,2100], "format": "d", "labelExpr": "datum.value % 300 == 0 ? datum.label : ''", "labelPadding": 9, "title": null}},
      "y": {"field": "q", "type": "quantitative", "axis": {"orient": "left", "values": [0,0.25,0.5,0.75,1,1.25,1.5,1.75,2,2.25,2.5,2.75,3,3.25,3.5,3.75,4], "labelExpr": "(datum.value * 2) % 1 == 0 ? format(datum.value, '.1f') : ''", "labelPadding": 12, "title": "Runoff [(m/s)×10⁵]", "titleFontSize": 20, "titleFontWeight": "bold", "titleX": -87, "titleY": 207, "titleAngle": 270, "titleBaseline": "middle", "titleAlign": "center"}},
      "shape": {"datum": "Observed", "scale": {"range": ["circle"]},
        "legend": {"orient": "none", "legendX": 342, "legendY": 219, "title": null, "symbolType": "circle", "symbolSize": 144, "symbolStrokeWidth": 2, "symbolStrokeColor": "#e0407e", "symbolFillColor": "transparent", "clipHeight": 24, "labelOffset": 23, "labelFontSize": 24}}
     }},
    {"data": {"values": [{}]},
     "mark": {"type": "text", "text": "Event No. 36", "font": "Liberation Serif", "fontSize": 23, "fontWeight": "bold", "align": "center", "baseline": "middle", "color": "#111"},
     "encoding": {
      "x": {"datum": 1323, "type": "quantitative", "axis": {"orient": "bottom", "values": [0,100,200,300,400,500,600,700,800,900,1000,1100,1200,1300,1400,1500,1600,1700,1800,1900,2000,2100], "format": "d", "labelExpr": "datum.value % 300 == 0 ? datum.label : ''", "labelPadding": 9, "title": null}},
      "y": {"datum": 3.09, "type": "quantitative", "axis": {"orient": "left", "values": [0,0.25,0.5,0.75,1,1.25,1.5,1.75,2,2.25,2.5,2.75,3,3.25,3.5,3.75,4], "labelExpr": "(datum.value * 2) % 1 == 0 ? format(datum.value, '.1f') : ''", "labelPadding": 12, "title": "Runoff [(m/s)×10⁵]", "titleFontSize": 20, "titleFontWeight": "bold", "titleX": -87, "titleY": 207, "titleAngle": 270, "titleBaseline": "middle", "titleAlign": "center"}}}}
  ]}
 ],
 "resolve": {"scale": {"y": "independent"}}
},
{
 "width": 722, "height": 448,
 "layer": [
  {"data": {"name": "r2"},
   "mark": {"type": "rect", "fill": "#b3bfcd", "stroke": "#3a62b4", "strokeWidth": 1.5},
   "encoding": {
    "x": {"field": "t0", "type": "quantitative", "scale": {"domain": [0, 2400], "nice": false}, "axis": {"orient": "top", "values": [0,100,200,300,400,500,600,700,800,900,1000,1100,1200,1300,1400,1500,1600,1700,1800,1900,2000,2100,2200,2300,2400], "labels": false, "title": null}},
    "x2": {"field": "t1"},
    "y": {"field": "rain", "type": "quantitative", "scale": {"domain": [0, 65.5], "reverse": true, "nice": false, "zero": false}, "axis": {"orient": "right", "values": [0,2,4,6,8,10,12], "labelExpr": "datum.value % 4 == 0 ? datum.label : ''", "labelFontSize": 14, "labelFontWeight": "bold", "labelPadding": 11, "title": "Rainfall (cm/h)", "titleFontSize": 13, "titleFontWeight": "bold", "titleX": 50, "titleY": 55, "titleAngle": 270, "titleBaseline": "middle", "titleAlign": "center"}},
    "y2": {"datum": 0}
   }},
  {"layer": [
    {"data": {"name": "m2"},
     "mark": {"type": "line", "strokeWidth": 2},
     "encoding": {
      "x": {"field": "t", "type": "quantitative", "scale": {"domain": [0, 2400], "nice": false}, "axis": {"orient": "bottom", "values": [0,100,200,300,400,500,600,700,800,900,1000,1100,1200,1300,1400,1500,1600,1700,1800,1900,2000,2100,2200,2300,2400], "format": "d", "labelExpr": "datum.value % 300 == 0 ? datum.label : ''", "labelPadding": 9, "title": null}},
      "y": {"field": "q", "type": "quantitative", "scale": {"domain": [0, 4], "nice": false}, "axis": {"orient": "left", "values": [0,0.25,0.5,0.75,1,1.25,1.5,1.75,2,2.25,2.5,2.75,3,3.25,3.5,3.75,4], "labelExpr": "(datum.value * 2) % 1 == 0 ? format(datum.value, '.1f') : ''", "labelPadding": 12, "title": "Runoff [(m/s)×10⁵]", "titleFontSize": 20, "titleFontWeight": "bold", "titleX": -86, "titleY": 212, "titleAngle": 270, "titleBaseline": "middle", "titleAlign": "center"}},
      "color": {"field": "s", "type": "nominal", "scale": {"domain": ["B","G","R"], "range": ["#2d55a8","#44a548","#e8502c"]},
        "legend": {"orient": "none", "legendX": 330, "legendY": 146, "title": null, "symbolType": "stroke", "symbolSize": 3364, "symbolStrokeWidth": 2.2, "clipHeight": 25, "labelOffset": 6, "labelFontSize": 24,
          "labelExpr": "datum.value == 'B' ? 'VPMD (dx=0.51m, dt=1s)' : datum.value == 'G' ? 'VPMD (dx=2.195m, dt=10s)' : 'Saint-Venant'"}}
     }},
    {"data": {"name": "o2"},
     "mark": {"type": "point", "filled": false, "stroke": "#e0407e", "strokeWidth": 2, "size": 144, "opacity": 1},
     "encoding": {
      "x": {"field": "t", "type": "quantitative", "axis": {"orient": "bottom", "values": [0,100,200,300,400,500,600,700,800,900,1000,1100,1200,1300,1400,1500,1600,1700,1800,1900,2000,2100,2200,2300,2400], "format": "d", "labelExpr": "datum.value % 300 == 0 ? datum.label : ''", "labelPadding": 9, "title": null}},
      "y": {"field": "q", "type": "quantitative", "axis": {"orient": "left", "values": [0,0.25,0.5,0.75,1,1.25,1.5,1.75,2,2.25,2.5,2.75,3,3.25,3.5,3.75,4], "labelExpr": "(datum.value * 2) % 1 == 0 ? format(datum.value, '.1f') : ''", "labelPadding": 12, "title": "Runoff [(m/s)×10⁵]", "titleFontSize": 20, "titleFontWeight": "bold", "titleX": -86, "titleY": 212, "titleAngle": 270, "titleBaseline": "middle", "titleAlign": "center"}},
      "shape": {"datum": "Observed", "scale": {"range": ["circle"]},
        "legend": {"orient": "none", "legendX": 349, "legendY": 223, "title": null, "symbolType": "circle", "symbolSize": 144, "symbolStrokeWidth": 2, "symbolStrokeColor": "#e0407e", "symbolFillColor": "transparent", "clipHeight": 25, "labelOffset": 23, "labelFontSize": 24}}
     }},
    {"data": {"values": [{}]},
     "mark": {"type": "text", "text": "Event No. 50", "font": "Liberation Serif", "fontSize": 23, "fontWeight": "bold", "align": "center", "baseline": "middle", "color": "#111"},
     "encoding": {
      "x": {"datum": 1652, "type": "quantitative", "axis": {"orient": "bottom", "values": [0,100,200,300,400,500,600,700,800,900,1000,1100,1200,1300,1400,1500,1600,1700,1800,1900,2000,2100,2200,2300,2400], "format": "d", "labelExpr": "datum.value % 300 == 0 ? datum.label : ''", "labelPadding": 9, "title": null}},
      "y": {"datum": 3.015, "type": "quantitative", "axis": {"orient": "left", "values": [0,0.25,0.5,0.75,1,1.25,1.5,1.75,2,2.25,2.5,2.75,3,3.25,3.5,3.75,4], "labelExpr": "(datum.value * 2) % 1 == 0 ? format(datum.value, '.1f') : ''", "labelPadding": 12, "title": "Runoff [(m/s)×10⁵]", "titleFontSize": 20, "titleFontWeight": "bold", "titleX": -86, "titleY": 212, "titleAngle": 270, "titleBaseline": "middle", "titleAlign": "center"}}}}
  ]}
 ],
 "resolve": {"scale": {"y": "independent"}}
},
{
 "width": 722, "height": 448,
 "layer": [
  {"data": {"name": "r3"},
   "mark": {"type": "rect", "fill": "#b3bfcd", "stroke": "#3a62b4", "strokeWidth": 1.5},
   "encoding": {
    "x": {"field": "t0", "type": "quantitative", "scale": {"domain": [0, 6000], "nice": false}, "axis": {"orient": "top", "values": [0,240,480,720,960,1200,1440,1680,1920,2160,2400,2640,2880,3120,3360,3600,3840,4080,4320,4560,4800,5040,5280,5520,5760,6000], "labels": false, "title": null}},
    "x2": {"field": "t1"},
    "y": {"field": "rain", "type": "quantitative", "scale": {"domain": [0, 39.4], "reverse": true, "nice": false, "zero": false}, "axis": {"orient": "right", "values": [0,1,2,3,4,5,6,7,8,9,10], "labelExpr": "datum.value % 2 == 0 ? datum.label : ''", "labelFontSize": 19, "labelPadding": 12, "title": "Rainfall (cm/h)", "titleFontSize": 18, "titleFontWeight": "normal", "titleX": 61, "titleY": 72, "titleAngle": 270, "titleBaseline": "middle", "titleAlign": "center"}},
    "y2": {"datum": 0}
   }},
  {"layer": [
    {"data": {"name": "m3"},
     "mark": {"type": "line", "strokeWidth": 2},
     "encoding": {
      "x": {"field": "t", "type": "quantitative", "scale": {"domain": [0, 6000], "nice": false}, "axis": {"orient": "bottom", "values": [0,240,480,720,960,1200,1440,1680,1920,2160,2400,2640,2880,3120,3360,3600,3840,4080,4320,4560,4800,5040,5280,5520,5760,6000], "format": "d", "labelExpr": "datum.value % 1200 == 0 ? datum.label : ''", "labelPadding": 9, "title": "Time (s)", "titleFontSize": 25, "titleFontWeight": "normal", "titleX": 361, "titleY": 58, "titleBaseline": "middle", "titleAlign": "center"}},
      "y": {"field": "q", "type": "quantitative", "scale": {"domain": [0, 3.5], "nice": false}, "axis": {"orient": "left", "values": [0,0.25,0.5,0.75,1,1.25,1.5,1.75,2,2.25,2.5,2.75,3,3.25,3.5], "labelExpr": "(datum.value * 2) % 1 == 0 ? format(datum.value, '.1f') : ''", "labelPadding": 12, "title": "Runoff [(m/s)×10⁵]", "titleFontSize": 20, "titleFontWeight": "bold", "titleX": -87, "titleY": 204, "titleAngle": 270, "titleBaseline": "middle", "titleAlign": "center"}},
      "color": {"field": "s", "type": "nominal", "scale": {"domain": ["B","G","R"], "range": ["#2d55a8","#44a548","#e8502c"]},
        "legend": {"orient": "none", "legendX": 326, "legendY": 159.5, "title": null, "symbolType": "stroke", "symbolSize": 3364, "symbolStrokeWidth": 2.2, "clipHeight": 25, "labelOffset": 6, "labelFontSize": 24,
          "labelExpr": "datum.value == 'B' ? 'VPMD (dx=0.51m, dt=1s)' : datum.value == 'G' ? 'VPMD (dx=2.195m, dt=10s)' : 'Saint-Venant'"}}
     }},
    {"data": {"name": "o3"},
     "mark": {"type": "point", "filled": false, "stroke": "#e0407e", "strokeWidth": 1.8, "size": 121, "opacity": 1},
     "encoding": {
      "x": {"field": "t", "type": "quantitative", "axis": {"orient": "bottom", "values": [0,240,480,720,960,1200,1440,1680,1920,2160,2400,2640,2880,3120,3360,3600,3840,4080,4320,4560,4800,5040,5280,5520,5760,6000], "format": "d", "labelExpr": "datum.value % 1200 == 0 ? datum.label : ''", "labelPadding": 9, "title": "Time (s)", "titleFontSize": 25, "titleFontWeight": "normal", "titleX": 361, "titleY": 58, "titleBaseline": "middle", "titleAlign": "center"}},
      "y": {"field": "q", "type": "quantitative", "axis": {"orient": "left", "values": [0,0.25,0.5,0.75,1,1.25,1.5,1.75,2,2.25,2.5,2.75,3,3.25,3.5], "labelExpr": "(datum.value * 2) % 1 == 0 ? format(datum.value, '.1f') : ''", "labelPadding": 12, "title": "Runoff [(m/s)×10⁵]", "titleFontSize": 20, "titleFontWeight": "bold", "titleX": -87, "titleY": 204, "titleAngle": 270, "titleBaseline": "middle", "titleAlign": "center"}},
      "shape": {"datum": "Observed", "scale": {"range": ["circle"]},
        "legend": {"orient": "none", "legendX": 345, "legendY": 235.5, "title": null, "symbolType": "circle", "symbolSize": 144, "symbolStrokeWidth": 2, "symbolStrokeColor": "#e0407e", "symbolFillColor": "transparent", "clipHeight": 25, "labelOffset": 23, "labelFontSize": 24}}
     }},
    {"data": {"values": [{}]},
     "mark": {"type": "text", "text": "Event No. 318", "font": "Liberation Serif", "fontSize": 23, "fontWeight": "bold", "align": "center", "baseline": "middle", "color": "#111"},
     "encoding": {
      "x": {"datum": 3839, "type": "quantitative", "axis": {"orient": "bottom", "values": [0,240,480,720,960,1200,1440,1680,1920,2160,2400,2640,2880,3120,3360,3600,3840,4080,4320,4560,4800,5040,5280,5520,5760,6000], "format": "d", "labelExpr": "datum.value % 1200 == 0 ? datum.label : ''", "labelPadding": 9, "title": "Time (s)", "titleFontSize": 25, "titleFontWeight": "normal", "titleX": 361, "titleY": 58, "titleBaseline": "middle", "titleAlign": "center"}},
      "y": {"datum": 2.72, "type": "quantitative", "axis": {"orient": "left", "values": [0,0.25,0.5,0.75,1,1.25,1.5,1.75,2,2.25,2.5,2.75,3,3.25,3.5], "labelExpr": "(datum.value * 2) % 1 == 0 ? format(datum.value, '.1f') : ''", "labelPadding": 12, "title": "Runoff [(m/s)×10⁵]", "titleFontSize": 20, "titleFontWeight": "bold", "titleX": -87, "titleY": 204, "titleAngle": 270, "titleBaseline": "middle", "titleAlign": "center"}}}}
  ]}
 ],
 "resolve": {"scale": {"y": "independent"}}
},
{
 "width": 722, "height": 448,
 "layer": [
  {"data": {"name": "r4"},
   "mark": {"type": "rect", "fill": "#b3bfcd", "stroke": "#3a62b4", "strokeWidth": 1.5},
   "encoding": {
    "x": {"field": "t0", "type": "quantitative", "scale": {"domain": [0, 6000], "nice": false}, "axis": {"orient": "top", "values": [0,240,480,720,960,1200,1440,1680,1920,2160,2400,2640,2880,3120,3360,3600,3840,4080,4320,4560,4800,5040,5280,5520,5760,6000], "labels": false, "title": null}},
    "x2": {"field": "t1"},
    "y": {"field": "rain", "type": "quantitative", "scale": {"domain": [0, 56], "reverse": true, "nice": false, "zero": false}, "axis": {"orient": "right", "values": [0,2,4,6,8,10,12], "labelExpr": "datum.value % 4 == 0 ? datum.label : ''", "labelFontSize": 14, "labelFontWeight": "bold", "labelPadding": 11, "title": "Rainfall (cm/h)", "titleFontSize": 13, "titleFontWeight": "bold", "titleX": 52, "titleY": 73, "titleAngle": 270, "titleBaseline": "middle", "titleAlign": "center"}},
    "y2": {"datum": 0}
   }},
  {"layer": [
    {"data": {"name": "m4"},
     "mark": {"type": "line", "strokeWidth": 2.5},
     "encoding": {
      "x": {"field": "t", "type": "quantitative", "scale": {"domain": [0, 6000], "nice": false}, "axis": {"orient": "bottom", "values": [0,240,480,720,960,1200,1440,1680,1920,2160,2400,2640,2880,3120,3360,3600,3840,4080,4320,4560,4800,5040,5280,5520,5760,6000], "format": "d", "labelExpr": "datum.value % 1200 == 0 ? datum.label : ''", "labelPadding": 9, "title": "Time (s)", "titleFontSize": 25, "titleFontWeight": "normal", "titleX": 361, "titleY": 60, "titleBaseline": "middle", "titleAlign": "center"}},
      "y": {"field": "q", "type": "quantitative", "scale": {"domain": [0, 3.5], "nice": false}, "axis": {"orient": "left", "values": [0,0.25,0.5,0.75,1,1.25,1.5,1.75,2,2.25,2.5,2.75,3,3.25,3.5], "labelExpr": "(datum.value * 2) % 1 == 0 ? format(datum.value, '.1f') : ''", "labelPadding": 12, "title": "Runoff [(m/s)×10⁵]", "titleFontSize": 20, "titleFontWeight": "bold", "titleX": -85, "titleY": 205, "titleAngle": 270, "titleBaseline": "middle", "titleAlign": "center"}},
      "color": {"field": "s", "type": "nominal", "scale": {"domain": ["B","G","R","D","S"], "range": ["#2d55a8","#4aab4e","#e8502c","#2f7a34","#e8585a"]},
        "legend": {"orient": "none", "legendX": 297, "legendY": 99.25, "title": null, "symbolType": "stroke", "symbolSize": 3364, "symbolStrokeWidth": 2.5, "clipHeight": 23.5, "labelOffset": 4, "labelFontSize": 23,
          "labelExpr": "datum.value == 'B' ? 'VPMD (dx=0.51m, dt=1s)(n=0.28)' : datum.value == 'G' ? 'VPMD (dx=2.195m, dt=10s)' : datum.value == 'R' ? 'Saint-Venant(n=0.28)' : datum.value == 'D' ? 'VPMD (dx=0.51m, dt=1s)(n=0.38)' : 'Saint-Venant(n=0.38)'"}},
      "strokeDash": {"field": "s", "type": "nominal", "scale": {"domain": ["B","G","R","D","S"], "range": [[1,0],[1,0],[1,0],[1,0],[7,4]]},
        "legend": {"orient": "none", "legendX": 297, "legendY": 99.25, "title": null, "symbolType": "stroke", "symbolSize": 3364, "symbolStrokeWidth": 2.5, "clipHeight": 23.5, "labelOffset": 4, "labelFontSize": 23,
          "labelExpr": "datum.value == 'B' ? 'VPMD (dx=0.51m, dt=1s)(n=0.28)' : datum.value == 'G' ? 'VPMD (dx=2.195m, dt=10s)' : datum.value == 'R' ? 'Saint-Venant(n=0.28)' : datum.value == 'D' ? 'VPMD (dx=0.51m, dt=1s)(n=0.38)' : 'Saint-Venant(n=0.38)'"}}
     }},
    {"data": {"name": "o4"},
     "mark": {"type": "point", "filled": false, "stroke": "#e0407e", "strokeWidth": 1.3, "size": 64, "opacity": 1},
     "encoding": {
      "x": {"field": "t", "type": "quantitative", "axis": {"orient": "bottom", "values": [0,240,480,720,960,1200,1440,1680,1920,2160,2400,2640,2880,3120,3360,3600,3840,4080,4320,4560,4800,5040,5280,5520,5760,6000], "format": "d", "labelExpr": "datum.value % 1200 == 0 ? datum.label : ''", "labelPadding": 9, "title": "Time (s)", "titleFontSize": 25, "titleFontWeight": "normal", "titleX": 361, "titleY": 60, "titleBaseline": "middle", "titleAlign": "center"}},
      "y": {"field": "q", "type": "quantitative", "axis": {"orient": "left", "values": [0,0.25,0.5,0.75,1,1.25,1.5,1.75,2,2.25,2.5,2.75,3,3.25,3.5], "labelExpr": "(datum.value * 2) % 1 == 0 ? format(datum.value, '.1f') : ''", "labelPadding": 12, "title": "Runoff [(m/s)×10⁵]", "titleFontSize": 20, "titleFontWeight": "bold", "titleX": -85, "titleY": 205, "titleAngle": 270, "titleBaseline": "middle", "titleAlign": "center"}},
      "shape": {"datum": "Observed", "scale": {"range": ["circle"]},
        "legend": {"orient": "none", "legendX": 317, "legendY": 216.25, "title": null, "symbolType": "circle", "symbolSize": 64, "symbolStrokeWidth": 1.5, "symbolStrokeColor": "#e0407e", "symbolFillColor": "transparent", "clipHeight": 23.5, "labelOffset": 21, "labelFontSize": 23}}
     }},
    {"data": {"values": [{}]},
     "mark": {"type": "text", "text": "Event No. 319", "font": "Liberation Serif", "fontSize": 23, "fontWeight": "bold", "align": "center", "baseline": "middle", "color": "#111"},
     "encoding": {
      "x": {"datum": 3989, "type": "quantitative", "axis": {"orient": "bottom", "values": [0,240,480,720,960,1200,1440,1680,1920,2160,2400,2640,2880,3120,3360,3600,3840,4080,4320,4560,4800,5040,5280,5520,5760,6000], "format": "d", "labelExpr": "datum.value % 1200 == 0 ? datum.label : ''", "labelPadding": 9, "title": "Time (s)", "titleFontSize": 25, "titleFontWeight": "normal", "titleX": 361, "titleY": 60, "titleBaseline": "middle", "titleAlign": "center"}},
      "y": {"datum": 2.94, "type": "quantitative", "axis": {"orient": "left", "values": [0,0.25,0.5,0.75,1,1.25,1.5,1.75,2,2.25,2.5,2.75,3,3.25,3.5], "labelExpr": "(datum.value * 2) % 1 == 0 ? format(datum.value, '.1f') : ''", "labelPadding": 12, "title": "Runoff [(m/s)×10⁵]", "titleFontSize": 20, "titleFontWeight": "bold", "titleX": -85, "titleY": 205, "titleAngle": 270, "titleBaseline": "middle", "titleAlign": "center"}}}}
  ]}
 ],
 "resolve": {"scale": {"y": "independent"}}
}
]
}
